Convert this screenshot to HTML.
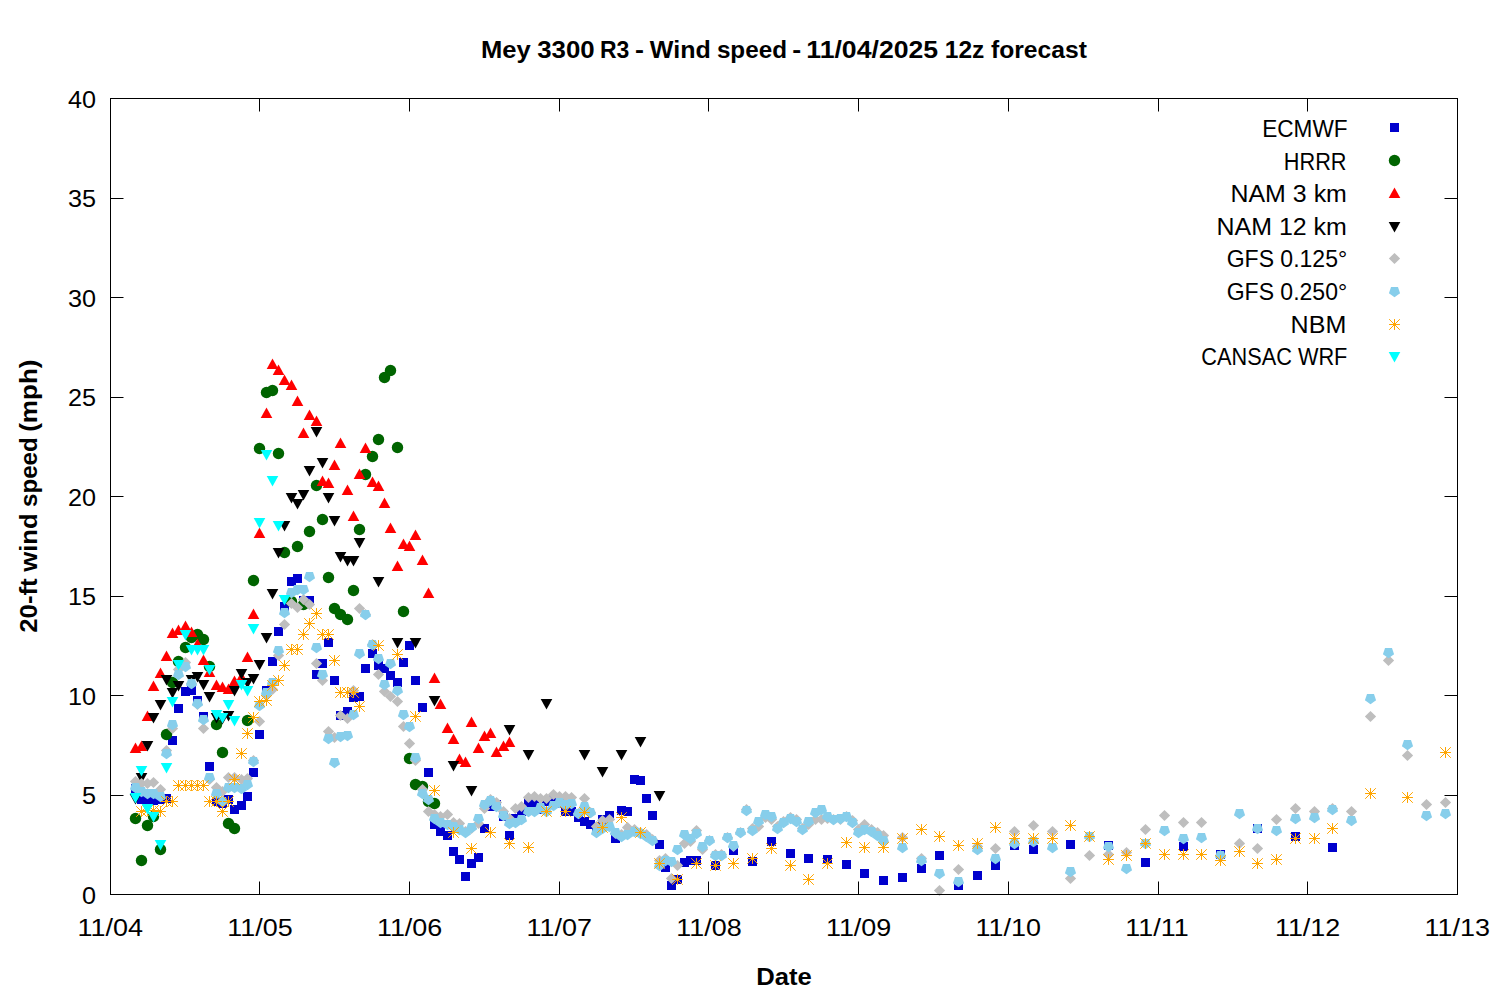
<!DOCTYPE html>
<html lang="en"><head><meta charset="utf-8"><title>Mey 3300 R3 - Wind speed - 11/04/2025 12z forecast</title>
<style>
html,body{margin:0;padding:0;background:#fff;}
body{width:1500px;height:1000px;overflow:hidden;font-family:"Liberation Sans",sans-serif;}
svg{display:block;}
text{font-family:"Liberation Sans",sans-serif;fill:#000;}
.t{font-size:23.2px;}
.b{font-size:23.2px;font-weight:bold;}
</style></head><body>
<svg width="1500" height="1000" viewBox="0 0 1500 1000">
<rect x="0" y="0" width="1500" height="1000" fill="#ffffff"/>
<defs>
<rect id="sq" x="-4.5" y="-4.5" width="9" height="9"/>
<circle id="ci" cx="0" cy="0" r="5.7"/>
<path id="up" d="M0 -6 L5.8 4.55 L-5.8 4.55 Z"/>
<path id="dn" d="M0 6 L5.8 -4.55 L-5.8 -4.55 Z"/>
<path id="di" d="M0 -5.6 L5.65 0 L0 5.6 L-5.65 0 Z"/>
<path id="pe" d="M0 5.7 L5.58 1.76 L3.45 -4.61 L-3.45 -4.61 L-5.58 1.76 Z"/>
<path id="as" fill="none" stroke-width="1" d="M-5.45 0 H5.45 M0 -5.45 V5.45 M-5.3 -5.3 L5.3 5.3 M-5.3 5.3 L5.3 -5.3"/>
</defs>
<g fill="#0000cd">
<use href="#sq" x="135.5" y="788.5"/><use href="#sq" x="141.5" y="799.5"/><use href="#sq" x="147.5" y="800.5"/><use href="#sq" x="153.5" y="800.5"/><use href="#sq" x="160.5" y="799.5"/><use href="#sq" x="166.5" y="798.5"/><use href="#sq" x="172.5" y="740.5"/><use href="#sq" x="178.5" y="708.5"/><use href="#sq" x="185.5" y="691.5"/><use href="#sq" x="191.5" y="690.5"/><use href="#sq" x="197.5" y="700.5"/><use href="#sq" x="203.5" y="716.5"/><use href="#sq" x="209.5" y="766.5"/><use href="#sq" x="216.5" y="801.5"/><use href="#sq" x="222.5" y="803.5"/><use href="#sq" x="228.5" y="799.5"/><use href="#sq" x="234.5" y="809.5"/><use href="#sq" x="241.5" y="805.5"/><use href="#sq" x="247.5" y="796.5"/><use href="#sq" x="253.5" y="772.5"/><use href="#sq" x="259.5" y="734.5"/><use href="#sq" x="266.5" y="690.5"/><use href="#sq" x="272.5" y="661.5"/><use href="#sq" x="278.5" y="631.5"/><use href="#sq" x="284.5" y="606.5"/><use href="#sq" x="291.5" y="581.5"/><use href="#sq" x="297.5" y="578.5"/><use href="#sq" x="303.5" y="600.5"/><use href="#sq" x="309.5" y="600.5"/><use href="#sq" x="316.5" y="674.5"/><use href="#sq" x="322.5" y="663.5"/><use href="#sq" x="328.5" y="642.5"/><use href="#sq" x="334.5" y="680.5"/><use href="#sq" x="340.5" y="715.5"/><use href="#sq" x="347.5" y="711.5"/><use href="#sq" x="353.5" y="697.5"/><use href="#sq" x="359.5" y="696.5"/><use href="#sq" x="365.5" y="668.5"/><use href="#sq" x="372.5" y="653.5"/><use href="#sq" x="378.5" y="665.5"/><use href="#sq" x="384.5" y="668.5"/><use href="#sq" x="390.5" y="675.5"/><use href="#sq" x="397.5" y="682.5"/><use href="#sq" x="403.5" y="662.5"/><use href="#sq" x="409.5" y="645.5"/><use href="#sq" x="415.5" y="680.5"/><use href="#sq" x="422.5" y="707.5"/><use href="#sq" x="428.5" y="772.5"/><use href="#sq" x="434.5" y="824.5"/><use href="#sq" x="440.5" y="831.5"/><use href="#sq" x="447.5" y="835.5"/><use href="#sq" x="453.5" y="851.5"/><use href="#sq" x="459.5" y="859.5"/><use href="#sq" x="465.5" y="876.5"/><use href="#sq" x="471.5" y="863.5"/><use href="#sq" x="478.5" y="857.5"/><use href="#sq" x="484.5" y="828.5"/><use href="#sq" x="490.5" y="806.5"/><use href="#sq" x="496.5" y="804.5"/><use href="#sq" x="503.5" y="816.5"/><use href="#sq" x="509.5" y="835.5"/><use href="#sq" x="515.5" y="818.5"/><use href="#sq" x="521.5" y="811.5"/><use href="#sq" x="528.5" y="802.5"/><use href="#sq" x="534.5" y="802.5"/><use href="#sq" x="540.5" y="809.5"/><use href="#sq" x="546.5" y="801.5"/><use href="#sq" x="553.5" y="798.5"/><use href="#sq" x="559.5" y="803.5"/><use href="#sq" x="565.5" y="811.5"/><use href="#sq" x="571.5" y="811.5"/><use href="#sq" x="578.5" y="817.5"/><use href="#sq" x="584.5" y="821.5"/><use href="#sq" x="590.5" y="824.5"/><use href="#sq" x="596.5" y="828.5"/><use href="#sq" x="602.5" y="819.5"/><use href="#sq" x="609.5" y="815.5"/><use href="#sq" x="615.5" y="838.5"/><use href="#sq" x="621.5" y="810.5"/><use href="#sq" x="627.5" y="811.5"/><use href="#sq" x="634.5" y="779.5"/><use href="#sq" x="640.5" y="780.5"/><use href="#sq" x="646.5" y="798.5"/><use href="#sq" x="652.5" y="815.5"/><use href="#sq" x="659.5" y="844.5"/><use href="#sq" x="665.5" y="867.5"/><use href="#sq" x="671.5" y="885.5"/><use href="#sq" x="677.5" y="879.5"/><use href="#sq" x="684.5" y="862.5"/><use href="#sq" x="690.5" y="860.5"/><use href="#sq" x="696.5" y="860.5"/><use href="#sq" x="715.5" y="865.5"/><use href="#sq" x="733.5" y="850.5"/><use href="#sq" x="752.5" y="861.5"/><use href="#sq" x="771.5" y="841.5"/><use href="#sq" x="790.5" y="853.5"/><use href="#sq" x="808.5" y="858.5"/><use href="#sq" x="827.5" y="859.5"/><use href="#sq" x="846.5" y="864.5"/><use href="#sq" x="864.5" y="873.5"/><use href="#sq" x="883.5" y="880.5"/><use href="#sq" x="902.5" y="877.5"/><use href="#sq" x="921.5" y="868.5"/><use href="#sq" x="939.5" y="855.5"/><use href="#sq" x="958.5" y="885.5"/><use href="#sq" x="977.5" y="875.5"/><use href="#sq" x="995.5" y="865.5"/><use href="#sq" x="1014.5" y="845.5"/><use href="#sq" x="1033.5" y="849.5"/><use href="#sq" x="1070.5" y="844.5"/><use href="#sq" x="1108.5" y="845.5"/><use href="#sq" x="1145.5" y="862.5"/><use href="#sq" x="1183.5" y="846.5"/><use href="#sq" x="1220.5" y="854.5"/><use href="#sq" x="1257.5" y="828.5"/><use href="#sq" x="1295.5" y="836.5"/><use href="#sq" x="1332.5" y="847.5"/>
</g>
<g fill="#006400">
<use href="#ci" x="135.5" y="818.5"/><use href="#ci" x="141.5" y="860.5"/><use href="#ci" x="147.5" y="825.5"/><use href="#ci" x="153.5" y="816.5"/><use href="#ci" x="160.5" y="849.5"/><use href="#ci" x="166.5" y="734.5"/><use href="#ci" x="172.5" y="682.5"/><use href="#ci" x="178.5" y="661.5"/><use href="#ci" x="185.5" y="647.5"/><use href="#ci" x="191.5" y="637.5"/><use href="#ci" x="197.5" y="634.5"/><use href="#ci" x="203.5" y="639.5"/><use href="#ci" x="209.5" y="666.5"/><use href="#ci" x="216.5" y="724.5"/><use href="#ci" x="222.5" y="752.5"/><use href="#ci" x="228.5" y="823.5"/><use href="#ci" x="234.5" y="828.5"/><use href="#ci" x="247.5" y="720.5"/><use href="#ci" x="253.5" y="580.5"/><use href="#ci" x="259.5" y="448.5"/><use href="#ci" x="266.5" y="392.5"/><use href="#ci" x="272.5" y="390.5"/><use href="#ci" x="278.5" y="453.5"/><use href="#ci" x="284.5" y="552.5"/><use href="#ci" x="291.5" y="601.5"/><use href="#ci" x="297.5" y="546.5"/><use href="#ci" x="303.5" y="604.5"/><use href="#ci" x="309.5" y="531.5"/><use href="#ci" x="316.5" y="485.5"/><use href="#ci" x="322.5" y="519.5"/><use href="#ci" x="328.5" y="577.5"/><use href="#ci" x="334.5" y="608.5"/><use href="#ci" x="340.5" y="614.5"/><use href="#ci" x="347.5" y="619.5"/><use href="#ci" x="353.5" y="590.5"/><use href="#ci" x="359.5" y="529.5"/><use href="#ci" x="365.5" y="474.5"/><use href="#ci" x="372.5" y="456.5"/><use href="#ci" x="378.5" y="439.5"/><use href="#ci" x="384.5" y="377.5"/><use href="#ci" x="390.5" y="370.5"/><use href="#ci" x="397.5" y="447.5"/><use href="#ci" x="403.5" y="611.5"/><use href="#ci" x="409.5" y="758.5"/><use href="#ci" x="415.5" y="784.5"/><use href="#ci" x="422.5" y="786.5"/><use href="#ci" x="428.5" y="801.5"/><use href="#ci" x="434.5" y="803.5"/>
</g>
<g fill="#ff0000">
<use href="#up" x="135.5" y="748.5"/><use href="#up" x="141.5" y="746.5"/><use href="#up" x="147.5" y="716.5"/><use href="#up" x="153.5" y="686.5"/><use href="#up" x="160.5" y="673.5"/><use href="#up" x="166.5" y="656.5"/><use href="#up" x="172.5" y="633.5"/><use href="#up" x="178.5" y="630.5"/><use href="#up" x="185.5" y="626.5"/><use href="#up" x="191.5" y="632.5"/><use href="#up" x="197.5" y="644.5"/><use href="#up" x="203.5" y="660.5"/><use href="#up" x="209.5" y="672.5"/><use href="#up" x="216.5" y="685.5"/><use href="#up" x="222.5" y="687.5"/><use href="#up" x="228.5" y="689.5"/><use href="#up" x="234.5" y="681.5"/><use href="#up" x="241.5" y="677.5"/><use href="#up" x="247.5" y="657.5"/><use href="#up" x="253.5" y="614.5"/><use href="#up" x="259.5" y="533.5"/><use href="#up" x="266.5" y="413.5"/><use href="#up" x="272.5" y="364.5"/><use href="#up" x="278.5" y="370.5"/><use href="#up" x="284.5" y="380.5"/><use href="#up" x="291.5" y="385.5"/><use href="#up" x="297.5" y="401.5"/><use href="#up" x="303.5" y="433.5"/><use href="#up" x="309.5" y="415.5"/><use href="#up" x="316.5" y="421.5"/><use href="#up" x="322.5" y="481.5"/><use href="#up" x="328.5" y="483.5"/><use href="#up" x="334.5" y="465.5"/><use href="#up" x="340.5" y="443.5"/><use href="#up" x="347.5" y="490.5"/><use href="#up" x="353.5" y="516.5"/><use href="#up" x="359.5" y="474.5"/><use href="#up" x="365.5" y="448.5"/><use href="#up" x="372.5" y="482.5"/><use href="#up" x="378.5" y="486.5"/><use href="#up" x="384.5" y="503.5"/><use href="#up" x="390.5" y="528.5"/><use href="#up" x="397.5" y="566.5"/><use href="#up" x="403.5" y="544.5"/><use href="#up" x="409.5" y="546.5"/><use href="#up" x="415.5" y="535.5"/><use href="#up" x="422.5" y="560.5"/><use href="#up" x="428.5" y="593.5"/><use href="#up" x="434.5" y="678.5"/><use href="#up" x="440.5" y="704.5"/><use href="#up" x="447.5" y="728.5"/><use href="#up" x="453.5" y="739.5"/><use href="#up" x="459.5" y="759.5"/><use href="#up" x="465.5" y="762.5"/><use href="#up" x="471.5" y="722.5"/><use href="#up" x="478.5" y="748.5"/><use href="#up" x="484.5" y="736.5"/><use href="#up" x="490.5" y="733.5"/><use href="#up" x="496.5" y="752.5"/><use href="#up" x="503.5" y="746.5"/><use href="#up" x="509.5" y="742.5"/>
</g>
<g fill="#000000">
<use href="#dn" x="135.5" y="798.5"/><use href="#dn" x="141.5" y="777.5"/><use href="#dn" x="147.5" y="745.5"/><use href="#dn" x="153.5" y="717.5"/><use href="#dn" x="160.5" y="704.5"/><use href="#dn" x="166.5" y="679.5"/><use href="#dn" x="172.5" y="692.5"/><use href="#dn" x="178.5" y="685.5"/><use href="#dn" x="191.5" y="679.5"/><use href="#dn" x="197.5" y="676.5"/><use href="#dn" x="203.5" y="684.5"/><use href="#dn" x="209.5" y="696.5"/><use href="#dn" x="216.5" y="717.5"/><use href="#dn" x="222.5" y="718.5"/><use href="#dn" x="228.5" y="715.5"/><use href="#dn" x="234.5" y="690.5"/><use href="#dn" x="241.5" y="673.5"/><use href="#dn" x="247.5" y="682.5"/><use href="#dn" x="253.5" y="678.5"/><use href="#dn" x="259.5" y="664.5"/><use href="#dn" x="266.5" y="637.5"/><use href="#dn" x="272.5" y="593.5"/><use href="#dn" x="278.5" y="552.5"/><use href="#dn" x="284.5" y="525.5"/><use href="#dn" x="291.5" y="497.5"/><use href="#dn" x="297.5" y="503.5"/><use href="#dn" x="303.5" y="494.5"/><use href="#dn" x="309.5" y="470.5"/><use href="#dn" x="316.5" y="431.5"/><use href="#dn" x="322.5" y="462.5"/><use href="#dn" x="328.5" y="497.5"/><use href="#dn" x="334.5" y="520.5"/><use href="#dn" x="340.5" y="556.5"/><use href="#dn" x="347.5" y="560.5"/><use href="#dn" x="353.5" y="560.5"/><use href="#dn" x="359.5" y="542.5"/><use href="#dn" x="378.5" y="581.5"/><use href="#dn" x="397.5" y="642.5"/><use href="#dn" x="415.5" y="642.5"/><use href="#dn" x="434.5" y="700.5"/><use href="#dn" x="453.5" y="765.5"/><use href="#dn" x="471.5" y="790.5"/><use href="#dn" x="509.5" y="729.5"/><use href="#dn" x="528.5" y="754.5"/><use href="#dn" x="546.5" y="703.5"/><use href="#dn" x="584.5" y="754.5"/><use href="#dn" x="602.5" y="771.5"/><use href="#dn" x="621.5" y="754.5"/><use href="#dn" x="640.5" y="741.5"/><use href="#dn" x="659.5" y="795.5"/>
</g>
<g fill="#bebebe">
<use href="#di" x="135.5" y="781.5"/><use href="#di" x="141.5" y="783.5"/><use href="#di" x="147.5" y="783.5"/><use href="#di" x="153.5" y="782.5"/><use href="#di" x="160.5" y="789.5"/><use href="#di" x="166.5" y="750.5"/><use href="#di" x="172.5" y="728.5"/><use href="#di" x="178.5" y="669.5"/><use href="#di" x="185.5" y="662.5"/><use href="#di" x="191.5" y="683.5"/><use href="#di" x="197.5" y="704.5"/><use href="#di" x="203.5" y="728.5"/><use href="#di" x="209.5" y="779.5"/><use href="#di" x="216.5" y="787.5"/><use href="#di" x="222.5" y="791.5"/><use href="#di" x="228.5" y="777.5"/><use href="#di" x="234.5" y="777.5"/><use href="#di" x="241.5" y="779.5"/><use href="#di" x="247.5" y="778.5"/><use href="#di" x="253.5" y="760.5"/><use href="#di" x="259.5" y="721.5"/><use href="#di" x="266.5" y="695.5"/><use href="#di" x="272.5" y="689.5"/><use href="#di" x="278.5" y="655.5"/><use href="#di" x="284.5" y="624.5"/><use href="#di" x="291.5" y="603.5"/><use href="#di" x="297.5" y="607.5"/><use href="#di" x="303.5" y="599.5"/><use href="#di" x="309.5" y="604.5"/><use href="#di" x="316.5" y="663.5"/><use href="#di" x="322.5" y="680.5"/><use href="#di" x="328.5" y="731.5"/><use href="#di" x="334.5" y="737.5"/><use href="#di" x="340.5" y="715.5"/><use href="#di" x="347.5" y="718.5"/><use href="#di" x="353.5" y="690.5"/><use href="#di" x="359.5" y="608.5"/><use href="#di" x="365.5" y="614.5"/><use href="#di" x="372.5" y="644.5"/><use href="#di" x="378.5" y="674.5"/><use href="#di" x="384.5" y="691.5"/><use href="#di" x="390.5" y="696.5"/><use href="#di" x="397.5" y="701.5"/><use href="#di" x="403.5" y="726.5"/><use href="#di" x="409.5" y="743.5"/><use href="#di" x="415.5" y="760.5"/><use href="#di" x="422.5" y="789.5"/><use href="#di" x="428.5" y="811.5"/><use href="#di" x="434.5" y="814.5"/><use href="#di" x="440.5" y="816.5"/><use href="#di" x="447.5" y="814.5"/><use href="#di" x="453.5" y="822.5"/><use href="#di" x="459.5" y="823.5"/><use href="#di" x="465.5" y="831.5"/><use href="#di" x="471.5" y="828.5"/><use href="#di" x="478.5" y="823.5"/><use href="#di" x="484.5" y="808.5"/><use href="#di" x="490.5" y="799.5"/><use href="#di" x="496.5" y="802.5"/><use href="#di" x="503.5" y="811.5"/><use href="#di" x="509.5" y="818.5"/><use href="#di" x="515.5" y="808.5"/><use href="#di" x="521.5" y="806.5"/><use href="#di" x="528.5" y="797.5"/><use href="#di" x="534.5" y="796.5"/><use href="#di" x="540.5" y="798.5"/><use href="#di" x="546.5" y="798.5"/><use href="#di" x="553.5" y="794.5"/><use href="#di" x="559.5" y="796.5"/><use href="#di" x="565.5" y="796.5"/><use href="#di" x="571.5" y="797.5"/><use href="#di" x="578.5" y="813.5"/><use href="#di" x="584.5" y="798.5"/><use href="#di" x="590.5" y="812.5"/><use href="#di" x="596.5" y="826.5"/><use href="#di" x="602.5" y="820.5"/><use href="#di" x="609.5" y="819.5"/><use href="#di" x="615.5" y="833.5"/><use href="#di" x="621.5" y="834.5"/><use href="#di" x="627.5" y="827.5"/><use href="#di" x="634.5" y="829.5"/><use href="#di" x="640.5" y="832.5"/><use href="#di" x="646.5" y="834.5"/><use href="#di" x="652.5" y="839.5"/><use href="#di" x="659.5" y="860.5"/><use href="#di" x="665.5" y="858.5"/><use href="#di" x="671.5" y="878.5"/><use href="#di" x="677.5" y="865.5"/><use href="#di" x="684.5" y="843.5"/><use href="#di" x="690.5" y="841.5"/><use href="#di" x="696.5" y="830.5"/><use href="#di" x="702.5" y="849.5"/><use href="#di" x="709.5" y="840.5"/><use href="#di" x="715.5" y="854.5"/><use href="#di" x="721.5" y="854.5"/><use href="#di" x="727.5" y="837.5"/><use href="#di" x="733.5" y="846.5"/><use href="#di" x="740.5" y="832.5"/><use href="#di" x="746.5" y="809.5"/><use href="#di" x="752.5" y="828.5"/><use href="#di" x="758.5" y="826.5"/><use href="#di" x="765.5" y="817.5"/><use href="#di" x="771.5" y="819.5"/><use href="#di" x="777.5" y="826.5"/><use href="#di" x="783.5" y="821.5"/><use href="#di" x="790.5" y="817.5"/><use href="#di" x="796.5" y="819.5"/><use href="#di" x="802.5" y="828.5"/><use href="#di" x="808.5" y="824.5"/><use href="#di" x="815.5" y="819.5"/><use href="#di" x="821.5" y="819.5"/><use href="#di" x="827.5" y="818.5"/><use href="#di" x="833.5" y="819.5"/><use href="#di" x="840.5" y="819.5"/><use href="#di" x="846.5" y="816.5"/><use href="#di" x="852.5" y="820.5"/><use href="#di" x="858.5" y="829.5"/><use href="#di" x="864.5" y="824.5"/><use href="#di" x="871.5" y="829.5"/><use href="#di" x="877.5" y="832.5"/><use href="#di" x="883.5" y="835.5"/><use href="#di" x="902.5" y="837.5"/><use href="#di" x="921.5" y="858.5"/><use href="#di" x="939.5" y="890.5"/><use href="#di" x="958.5" y="869.5"/><use href="#di" x="977.5" y="846.5"/><use href="#di" x="995.5" y="848.5"/><use href="#di" x="1014.5" y="831.5"/><use href="#di" x="1033.5" y="825.5"/><use href="#di" x="1052.5" y="831.5"/><use href="#di" x="1070.5" y="878.5"/><use href="#di" x="1089.5" y="855.5"/><use href="#di" x="1108.5" y="854.5"/><use href="#di" x="1126.5" y="852.5"/><use href="#di" x="1145.5" y="829.5"/><use href="#di" x="1164.5" y="815.5"/><use href="#di" x="1183.5" y="822.5"/><use href="#di" x="1201.5" y="822.5"/><use href="#di" x="1220.5" y="855.5"/><use href="#di" x="1239.5" y="843.5"/><use href="#di" x="1257.5" y="848.5"/><use href="#di" x="1276.5" y="819.5"/><use href="#di" x="1295.5" y="808.5"/><use href="#di" x="1314.5" y="811.5"/><use href="#di" x="1332.5" y="808.5"/><use href="#di" x="1351.5" y="811.5"/><use href="#di" x="1370.5" y="716.5"/><use href="#di" x="1388.5" y="660.5"/><use href="#di" x="1407.5" y="755.5"/><use href="#di" x="1426.5" y="804.5"/><use href="#di" x="1445.5" y="802.5"/>
</g>
<g fill="#87ceeb">
<use href="#pe" x="135.5" y="787.5"/><use href="#pe" x="141.5" y="791.5"/><use href="#pe" x="147.5" y="793.5"/><use href="#pe" x="153.5" y="793.5"/><use href="#pe" x="160.5" y="796.5"/><use href="#pe" x="166.5" y="753.5"/><use href="#pe" x="172.5" y="724.5"/><use href="#pe" x="178.5" y="674.5"/><use href="#pe" x="185.5" y="666.5"/><use href="#pe" x="191.5" y="683.5"/><use href="#pe" x="197.5" y="703.5"/><use href="#pe" x="203.5" y="719.5"/><use href="#pe" x="209.5" y="777.5"/><use href="#pe" x="216.5" y="793.5"/><use href="#pe" x="222.5" y="801.5"/><use href="#pe" x="228.5" y="787.5"/><use href="#pe" x="234.5" y="787.5"/><use href="#pe" x="241.5" y="788.5"/><use href="#pe" x="247.5" y="784.5"/><use href="#pe" x="253.5" y="761.5"/><use href="#pe" x="259.5" y="705.5"/><use href="#pe" x="266.5" y="692.5"/><use href="#pe" x="272.5" y="682.5"/><use href="#pe" x="278.5" y="650.5"/><use href="#pe" x="284.5" y="612.5"/><use href="#pe" x="291.5" y="592.5"/><use href="#pe" x="297.5" y="589.5"/><use href="#pe" x="303.5" y="589.5"/><use href="#pe" x="309.5" y="576.5"/><use href="#pe" x="316.5" y="647.5"/><use href="#pe" x="322.5" y="674.5"/><use href="#pe" x="328.5" y="738.5"/><use href="#pe" x="334.5" y="762.5"/><use href="#pe" x="340.5" y="736.5"/><use href="#pe" x="347.5" y="735.5"/><use href="#pe" x="353.5" y="714.5"/><use href="#pe" x="359.5" y="653.5"/><use href="#pe" x="365.5" y="614.5"/><use href="#pe" x="372.5" y="644.5"/><use href="#pe" x="378.5" y="658.5"/><use href="#pe" x="384.5" y="684.5"/><use href="#pe" x="390.5" y="663.5"/><use href="#pe" x="397.5" y="690.5"/><use href="#pe" x="403.5" y="714.5"/><use href="#pe" x="409.5" y="726.5"/><use href="#pe" x="415.5" y="757.5"/><use href="#pe" x="422.5" y="793.5"/><use href="#pe" x="428.5" y="799.5"/><use href="#pe" x="434.5" y="818.5"/><use href="#pe" x="440.5" y="822.5"/><use href="#pe" x="447.5" y="824.5"/><use href="#pe" x="453.5" y="826.5"/><use href="#pe" x="459.5" y="829.5"/><use href="#pe" x="465.5" y="832.5"/><use href="#pe" x="471.5" y="827.5"/><use href="#pe" x="478.5" y="818.5"/><use href="#pe" x="484.5" y="804.5"/><use href="#pe" x="490.5" y="800.5"/><use href="#pe" x="496.5" y="806.5"/><use href="#pe" x="503.5" y="815.5"/><use href="#pe" x="509.5" y="823.5"/><use href="#pe" x="515.5" y="822.5"/><use href="#pe" x="521.5" y="819.5"/><use href="#pe" x="528.5" y="811.5"/><use href="#pe" x="534.5" y="811.5"/><use href="#pe" x="540.5" y="807.5"/><use href="#pe" x="546.5" y="811.5"/><use href="#pe" x="553.5" y="805.5"/><use href="#pe" x="559.5" y="802.5"/><use href="#pe" x="565.5" y="804.5"/><use href="#pe" x="571.5" y="803.5"/><use href="#pe" x="578.5" y="813.5"/><use href="#pe" x="584.5" y="806.5"/><use href="#pe" x="590.5" y="812.5"/><use href="#pe" x="596.5" y="832.5"/><use href="#pe" x="602.5" y="828.5"/><use href="#pe" x="609.5" y="826.5"/><use href="#pe" x="615.5" y="832.5"/><use href="#pe" x="621.5" y="836.5"/><use href="#pe" x="627.5" y="834.5"/><use href="#pe" x="634.5" y="831.5"/><use href="#pe" x="640.5" y="833.5"/><use href="#pe" x="646.5" y="836.5"/><use href="#pe" x="652.5" y="840.5"/><use href="#pe" x="659.5" y="865.5"/><use href="#pe" x="665.5" y="860.5"/><use href="#pe" x="671.5" y="861.5"/><use href="#pe" x="677.5" y="849.5"/><use href="#pe" x="684.5" y="834.5"/><use href="#pe" x="690.5" y="838.5"/><use href="#pe" x="696.5" y="833.5"/><use href="#pe" x="702.5" y="846.5"/><use href="#pe" x="709.5" y="840.5"/><use href="#pe" x="715.5" y="855.5"/><use href="#pe" x="721.5" y="855.5"/><use href="#pe" x="727.5" y="837.5"/><use href="#pe" x="733.5" y="845.5"/><use href="#pe" x="740.5" y="832.5"/><use href="#pe" x="746.5" y="810.5"/><use href="#pe" x="752.5" y="830.5"/><use href="#pe" x="758.5" y="821.5"/><use href="#pe" x="765.5" y="814.5"/><use href="#pe" x="771.5" y="816.5"/><use href="#pe" x="777.5" y="828.5"/><use href="#pe" x="783.5" y="822.5"/><use href="#pe" x="790.5" y="818.5"/><use href="#pe" x="796.5" y="821.5"/><use href="#pe" x="802.5" y="829.5"/><use href="#pe" x="808.5" y="821.5"/><use href="#pe" x="815.5" y="812.5"/><use href="#pe" x="821.5" y="809.5"/><use href="#pe" x="827.5" y="816.5"/><use href="#pe" x="833.5" y="819.5"/><use href="#pe" x="840.5" y="818.5"/><use href="#pe" x="846.5" y="816.5"/><use href="#pe" x="852.5" y="822.5"/><use href="#pe" x="858.5" y="832.5"/><use href="#pe" x="864.5" y="829.5"/><use href="#pe" x="871.5" y="831.5"/><use href="#pe" x="877.5" y="835.5"/><use href="#pe" x="883.5" y="840.5"/><use href="#pe" x="902.5" y="847.5"/><use href="#pe" x="921.5" y="860.5"/><use href="#pe" x="939.5" y="873.5"/><use href="#pe" x="958.5" y="881.5"/><use href="#pe" x="977.5" y="849.5"/><use href="#pe" x="995.5" y="858.5"/><use href="#pe" x="1014.5" y="843.5"/><use href="#pe" x="1033.5" y="841.5"/><use href="#pe" x="1052.5" y="847.5"/><use href="#pe" x="1070.5" y="871.5"/><use href="#pe" x="1089.5" y="836.5"/><use href="#pe" x="1108.5" y="846.5"/><use href="#pe" x="1126.5" y="868.5"/><use href="#pe" x="1145.5" y="843.5"/><use href="#pe" x="1164.5" y="830.5"/><use href="#pe" x="1183.5" y="838.5"/><use href="#pe" x="1201.5" y="837.5"/><use href="#pe" x="1220.5" y="855.5"/><use href="#pe" x="1239.5" y="813.5"/><use href="#pe" x="1257.5" y="828.5"/><use href="#pe" x="1276.5" y="830.5"/><use href="#pe" x="1295.5" y="818.5"/><use href="#pe" x="1314.5" y="817.5"/><use href="#pe" x="1332.5" y="809.5"/><use href="#pe" x="1351.5" y="820.5"/><use href="#pe" x="1370.5" y="698.5"/><use href="#pe" x="1388.5" y="652.5"/><use href="#pe" x="1407.5" y="744.5"/><use href="#pe" x="1426.5" y="815.5"/><use href="#pe" x="1445.5" y="813.5"/>
</g>
<g stroke="#ffa500" fill="none">
<use href="#as" x="141.5" y="811.5"/><use href="#as" x="147.5" y="810.5"/><use href="#as" x="153.5" y="810.5"/><use href="#as" x="160.5" y="811.5"/><use href="#as" x="166.5" y="801.5"/><use href="#as" x="172.5" y="801.5"/><use href="#as" x="178.5" y="785.5"/><use href="#as" x="185.5" y="785.5"/><use href="#as" x="191.5" y="785.5"/><use href="#as" x="197.5" y="785.5"/><use href="#as" x="203.5" y="785.5"/><use href="#as" x="209.5" y="801.5"/><use href="#as" x="216.5" y="801.5"/><use href="#as" x="222.5" y="811.5"/><use href="#as" x="228.5" y="801.5"/><use href="#as" x="234.5" y="779.5"/><use href="#as" x="241.5" y="753.5"/><use href="#as" x="247.5" y="733.5"/><use href="#as" x="253.5" y="717.5"/><use href="#as" x="259.5" y="701.5"/><use href="#as" x="266.5" y="700.5"/><use href="#as" x="272.5" y="685.5"/><use href="#as" x="278.5" y="680.5"/><use href="#as" x="284.5" y="665.5"/><use href="#as" x="291.5" y="649.5"/><use href="#as" x="297.5" y="649.5"/><use href="#as" x="303.5" y="634.5"/><use href="#as" x="309.5" y="623.5"/><use href="#as" x="316.5" y="613.5"/><use href="#as" x="322.5" y="634.5"/><use href="#as" x="328.5" y="634.5"/><use href="#as" x="334.5" y="660.5"/><use href="#as" x="340.5" y="692.5"/><use href="#as" x="347.5" y="692.5"/><use href="#as" x="353.5" y="692.5"/><use href="#as" x="359.5" y="706.5"/><use href="#as" x="378.5" y="645.5"/><use href="#as" x="397.5" y="654.5"/><use href="#as" x="415.5" y="716.5"/><use href="#as" x="434.5" y="790.5"/><use href="#as" x="453.5" y="832.5"/><use href="#as" x="471.5" y="848.5"/><use href="#as" x="490.5" y="832.5"/><use href="#as" x="509.5" y="843.5"/><use href="#as" x="528.5" y="847.5"/><use href="#as" x="546.5" y="811.5"/><use href="#as" x="565.5" y="811.5"/><use href="#as" x="584.5" y="812.5"/><use href="#as" x="602.5" y="827.5"/><use href="#as" x="621.5" y="817.5"/><use href="#as" x="640.5" y="832.5"/><use href="#as" x="659.5" y="863.5"/><use href="#as" x="677.5" y="879.5"/><use href="#as" x="696.5" y="863.5"/><use href="#as" x="715.5" y="865.5"/><use href="#as" x="733.5" y="863.5"/><use href="#as" x="752.5" y="858.5"/><use href="#as" x="771.5" y="848.5"/><use href="#as" x="790.5" y="865.5"/><use href="#as" x="808.5" y="879.5"/><use href="#as" x="827.5" y="863.5"/><use href="#as" x="846.5" y="842.5"/><use href="#as" x="864.5" y="847.5"/><use href="#as" x="883.5" y="847.5"/><use href="#as" x="902.5" y="838.5"/><use href="#as" x="921.5" y="829.5"/><use href="#as" x="939.5" y="836.5"/><use href="#as" x="958.5" y="845.5"/><use href="#as" x="977.5" y="843.5"/><use href="#as" x="995.5" y="827.5"/><use href="#as" x="1014.5" y="838.5"/><use href="#as" x="1033.5" y="838.5"/><use href="#as" x="1052.5" y="838.5"/><use href="#as" x="1070.5" y="825.5"/><use href="#as" x="1089.5" y="836.5"/><use href="#as" x="1108.5" y="859.5"/><use href="#as" x="1126.5" y="855.5"/><use href="#as" x="1145.5" y="843.5"/><use href="#as" x="1164.5" y="854.5"/><use href="#as" x="1183.5" y="854.5"/><use href="#as" x="1201.5" y="854.5"/><use href="#as" x="1220.5" y="860.5"/><use href="#as" x="1239.5" y="851.5"/><use href="#as" x="1257.5" y="863.5"/><use href="#as" x="1276.5" y="859.5"/><use href="#as" x="1295.5" y="838.5"/><use href="#as" x="1314.5" y="838.5"/><use href="#as" x="1332.5" y="828.5"/><use href="#as" x="1370.5" y="793.5"/><use href="#as" x="1407.5" y="797.5"/><use href="#as" x="1445.5" y="752.5"/>
</g>
<g fill="#00ffff">
<use href="#dn" x="135.5" y="797.5"/><use href="#dn" x="141.5" y="770.5"/><use href="#dn" x="147.5" y="808.5"/><use href="#dn" x="153.5" y="816.5"/><use href="#dn" x="160.5" y="844.5"/><use href="#dn" x="166.5" y="767.5"/><use href="#dn" x="172.5" y="701.5"/><use href="#dn" x="178.5" y="664.5"/><use href="#dn" x="185.5" y="634.5"/><use href="#dn" x="191.5" y="649.5"/><use href="#dn" x="197.5" y="649.5"/><use href="#dn" x="203.5" y="649.5"/><use href="#dn" x="209.5" y="669.5"/><use href="#dn" x="216.5" y="714.5"/><use href="#dn" x="222.5" y="717.5"/><use href="#dn" x="228.5" y="704.5"/><use href="#dn" x="234.5" y="720.5"/><use href="#dn" x="241.5" y="684.5"/><use href="#dn" x="247.5" y="690.5"/><use href="#dn" x="253.5" y="628.5"/><use href="#dn" x="259.5" y="522.5"/><use href="#dn" x="266.5" y="454.5"/><use href="#dn" x="272.5" y="480.5"/><use href="#dn" x="278.5" y="525.5"/><use href="#dn" x="284.5" y="599.5"/>
</g>
<g stroke="#000" stroke-width="1" fill="none" shape-rendering="auto">
<rect x="110.5" y="98.5" width="1347.0" height="796.0"/>
<path d="M259.5 894.5 V881.5 M259.5 98.5 V111.5 M409.5 894.5 V881.5 M409.5 98.5 V111.5 M559.5 894.5 V881.5 M559.5 98.5 V111.5 M708.5 894.5 V881.5 M708.5 98.5 V111.5 M858.5 894.5 V881.5 M858.5 98.5 V111.5 M1008.5 894.5 V881.5 M1008.5 98.5 V111.5 M1158.5 894.5 V881.5 M1158.5 98.5 V111.5 M1307.5 894.5 V881.5 M1307.5 98.5 V111.5 M110.5 795.5 H123.5 M1457.5 795.5 H1444.5 M110.5 695.5 H123.5 M1457.5 695.5 H1444.5 M110.5 596.5 H123.5 M1457.5 596.5 H1444.5 M110.5 496.5 H123.5 M1457.5 496.5 H1444.5 M110.5 397.5 H123.5 M1457.5 397.5 H1444.5 M110.5 297.5 H123.5 M1457.5 297.5 H1444.5 M110.5 198.5 H123.5 M1457.5 198.5 H1444.5"/>
</g>
<use href="#sq" x="1394.5" y="127.5" fill="#0000cd"/>
<use href="#ci" x="1394.5" y="160.5" fill="#006400"/>
<use href="#up" x="1394.5" y="193.5" fill="#ff0000"/>
<use href="#dn" x="1394.5" y="226.5" fill="#000000"/>
<use href="#di" x="1394.5" y="258.5" fill="#bebebe"/>
<use href="#pe" x="1394.5" y="291.5" fill="#87ceeb"/>
<use href="#as" x="1394.5" y="324.5" stroke="#ffa500" fill="none"/>
<use href="#dn" x="1394.5" y="356.5" fill="#00ffff"/>
<text class="t" transform="translate(1262.17 136.9) scale(0.9746 1.025)">ECMWF</text>
<text class="t" transform="translate(1283.85 169.54) scale(0.9359 1.025)">HRRR</text>
<text class="t" transform="translate(1230.48 202.18) scale(1.0756 1.025)">NAM 3 km</text>
<text class="t" transform="translate(1216.58 234.82) scale(1.0760 1.025)">NAM 12 km</text>
<text class="t" transform="translate(1226.68 267.46) scale(0.9924 1.025)">GFS 0.125°</text>
<text class="t" transform="translate(1226.68 300.1) scale(0.9924 1.025)">GFS 0.250°</text>
<text class="t" transform="translate(1290.57 332.74) scale(1.0806 1.025)">NBM</text>
<text class="t" transform="translate(1201.35 365.38) scale(0.9371 1.025)">CANSAC WRF</text>
<text class="t" transform="translate(81.95 903.8) scale(1.0875 1.025)">0</text>
<text class="t" transform="translate(82.09 804.3) scale(1.0875 1.025)">5</text>
<text class="t" transform="translate(67.95 704.8) scale(1.0875 1.025)">10</text>
<text class="t" transform="translate(67.95 605.3) scale(1.0875 1.025)">15</text>
<text class="t" transform="translate(67.95 505.8) scale(1.0875 1.025)">20</text>
<text class="t" transform="translate(67.95 406.3) scale(1.0875 1.025)">25</text>
<text class="t" transform="translate(67.95 306.8) scale(1.0875 1.025)">30</text>
<text class="t" transform="translate(67.95 207.3) scale(1.0875 1.025)">35</text>
<text class="t" transform="translate(67.95 107.8) scale(1.0875 1.025)">40</text>
<text class="t" transform="translate(77.57 936.1) scale(1.1619 1.025)">11/04</text>
<text class="t" transform="translate(227.23 936.1) scale(1.1619 1.025)">11/05</text>
<text class="t" transform="translate(376.9 936.1) scale(1.1619 1.025)">11/06</text>
<text class="t" transform="translate(526.57 936.1) scale(1.1619 1.025)">11/07</text>
<text class="t" transform="translate(676.23 936.1) scale(1.1619 1.025)">11/08</text>
<text class="t" transform="translate(825.9 936.1) scale(1.1619 1.025)">11/09</text>
<text class="t" transform="translate(975.57 936.1) scale(1.1619 1.025)">11/10</text>
<text class="t" transform="translate(1125.23 936.1) scale(1.1619 1.025)">11/11</text>
<text class="t" transform="translate(1274.9 936.1) scale(1.1619 1.025)">11/12</text>
<text class="t" transform="translate(1424.57 936.1) scale(1.1619 1.025)">11/13</text>
<text class="b" transform="translate(480.94 58.3) scale(1.1034 1.025)">Mey</text>
<text class="b" transform="translate(537.24 58.3) scale(1.1132 1.025)">3300</text>
<text class="b" transform="translate(599.91 58.3) scale(0.9908 1.025)">R3</text>
<text class="b" transform="translate(635.09 58.3) scale(1.1574 1.025)">-</text>
<text class="b" transform="translate(649.8 58.3) scale(1.0800 1.025)">Wind</text>
<text class="b" transform="translate(716.88 58.3) scale(1.0460 1.025)">speed</text>
<text class="b" transform="translate(792.19 58.3) scale(1.1574 1.025)">-</text>
<text class="b" transform="translate(806.28 58.3) scale(1.1494 1.025)">11/04/2025</text>
<text class="b" transform="translate(944.81 58.3) scale(1.0591 1.025)">12z</text>
<text class="b" transform="translate(991 58.3) scale(1.0622 1.025)">forecast</text>
<text class="b" transform="translate(756.34 985.4) scale(1.1042 1.025)">Date</text>
<text class="b" transform="translate(36.5 632.84) rotate(-90) scale(1.1146 1.025)">20-ft</text>
<text class="b" transform="translate(36.5 571.7) rotate(-90) scale(1.1044 1.025)">wind</text>
<text class="b" transform="translate(36.5 507.01) rotate(-90) scale(1.0414 1.025)">speed</text>
<text class="b" transform="translate(36.5 431.86) rotate(-90) scale(1.1235 1.025)">(mph)</text>
</svg>
</body></html>
